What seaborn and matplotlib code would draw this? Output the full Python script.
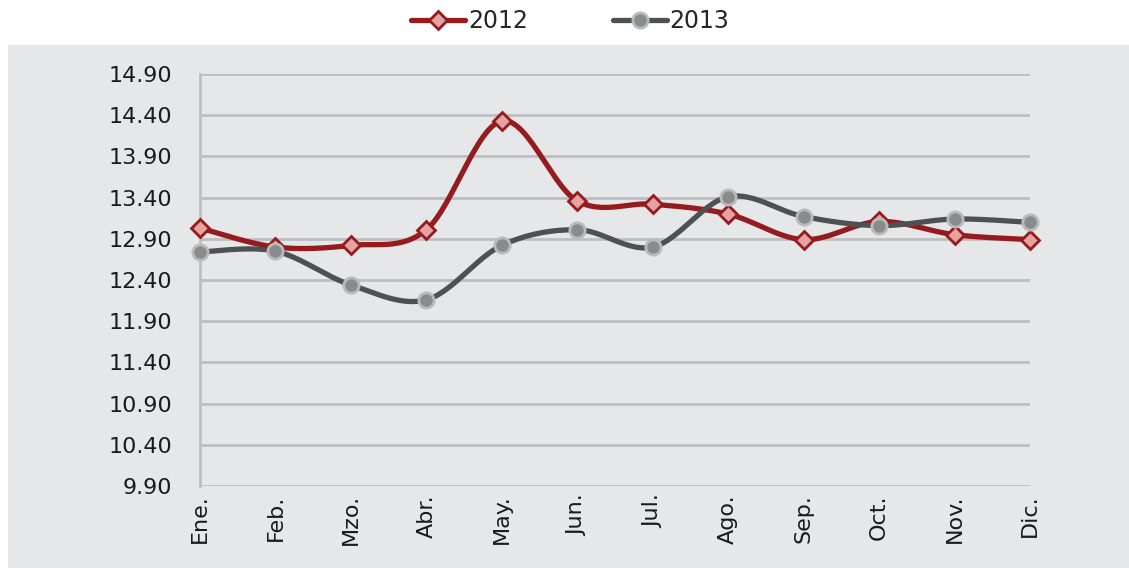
import numpy as np
import pandas as pd
import matplotlib
matplotlib.use("Agg")
import matplotlib.pyplot as plt
import seaborn as sns
from matplotlib.lines import Line2D
from matplotlib.patches import Rectangle

months = ["Ene.", "Feb.", "Mzo.", "Abr.", "May.", "Jun.", "Jul.", "Ago.", "Sep.", "Oct.", "Nov.", "Dic."]
vals_2012 = [13.03, 12.80, 12.82, 13.01, 14.33, 13.36, 13.32, 13.20, 12.89, 13.11, 12.95, 12.89]
vals_2013 = [12.74, 12.75, 12.34, 12.16, 12.82, 13.01, 12.80, 13.41, 13.17, 13.06, 13.14, 13.10]
y_ticks = [9.90, 10.40, 10.90, 11.40, 11.90, 12.40, 12.90, 13.40, 13.90, 14.40, 14.90]


def smooth(x, y, n=30):
    # Excel-style smoothed line (cubic bezier, Catmull-Rom control points)
    x = np.asarray(x, float)
    y = np.asarray(y, float)
    px = np.concatenate([[x[0]], x, [x[-1]]])
    py = np.concatenate([[y[0]], y, [y[-1]]])
    xs, ys = [], []
    t = np.linspace(0, 1, n)
    for i in range(len(x) - 1):
        p0 = np.array([px[i + 1], py[i + 1]])
        p3 = np.array([px[i + 2], py[i + 2]])
        c1 = p0 + (p3 - np.array([px[i], py[i]])) / 6
        c2 = p3 - (np.array([px[i + 3], py[i + 3]]) - p0) / 6
        b = ((1 - t) ** 3)[:, None] * p0 + (3 * (1 - t) ** 2 * t)[:, None] * c1 \
            + (3 * (1 - t) * t ** 2)[:, None] * c2 + (t ** 3)[:, None] * p3
        xs.extend(b[:, 0])
        ys.extend(b[:, 1])
    return np.array(xs), np.array(ys)


sns.set_theme(style="white")
plt.rcParams["font.family"] = ["DejaVu Sans"]

fig = plt.figure(figsize=(11.29, 5.68), dpi=100)
fig.patch.set_facecolor("white")
fig.patches.append(Rectangle((8 / 1129, 0), 1, 1 - 45 / 568, transform=fig.transFigure,
                             facecolor="#e6e7e9", edgecolor="none", zorder=-10))

ax = fig.add_axes([200 / 1129, 1 - 486 / 568, 830 / 1129, 412 / 568])
ax.set_facecolor("none")

pos = np.arange(len(months))
series = [
    ("2012", vals_2012, "#951b1e", "D", "#e4a2a0", "#951b1e", 9),
    ("2013", vals_2013, "#4d5152", "o", "#8a8b8c", "#b9babb", 11),
]
handles = []
for name, vals, lc, mk, mfc, mec, ms in series:
    sx, sy = smooth(pos, vals)
    sns.lineplot(x=sx, y=sy, ax=ax, color=lc, linewidth=3.8, sort=False, zorder=3)
    ax.plot(pos, vals, linestyle="none", marker=mk, markersize=ms, markerfacecolor=mfc,
            markeredgecolor=mec, markeredgewidth=2, zorder=4, clip_on=False)
    handles.append(Line2D([0], [0], color=lc, linewidth=3.8, marker=mk, markersize=ms,
                          markerfacecolor=mfc, markeredgecolor=mec, markeredgewidth=2))

ax.set_xlim(0, 11)
ax.set_ylim(9.9, 14.9)
ax.set_yticks(y_ticks)
ax.set_yticklabels([f"{v:.2f}" for v in y_ticks], fontsize=16, color="#1a1a1a")
ax.set_xticks(pos)
ax.set_xticklabels(months, rotation=90, fontsize=16, color="#1a1a1a")
ax.tick_params(axis="y", length=0, pad=20)
ax.tick_params(axis="x", length=0, pad=6)
ax.grid(axis="y", color="#bdbec0", linewidth=2)
ax.grid(axis="x", visible=False)
for side in ["top", "right", "bottom"]:
    ax.spines[side].set_visible(False)
ax.spines["left"].set_color("#bdbec0")
ax.spines["left"].set_linewidth(2)
ax.set_axisbelow(True)

fig.legend(handles, ["2012", "2013"], loc="center", bbox_to_anchor=(0.505, 1 - 21 / 568),
           ncol=2, frameon=False, fontsize=17, handlelength=2.3, handletextpad=0.1,
           columnspacing=3.6)

fig.savefig("out.png", dpi=100)
